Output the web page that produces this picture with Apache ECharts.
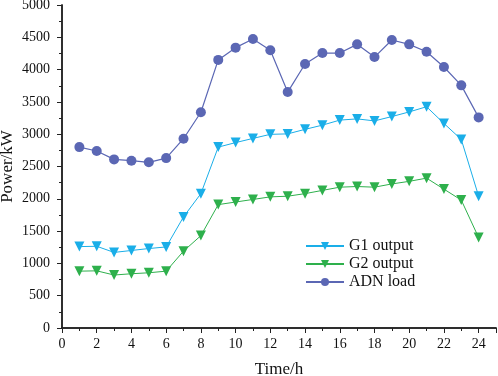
<!DOCTYPE html>
<html><head><meta charset="utf-8">
<script src="https://cdn.jsdelivr.net/npm/echarts@6/dist/echarts.min.js"></script>
<style>html,body{margin:0;padding:0;background:#fff}#c{width:498px;height:376px}</style>
</head><body><div id="c"></div>
<script>
const hours = [1,2,3,4,5,6,7,8,9,10,11,12,13,14,15,16,17,18,19,20,21,22,23,24];
const g1Output = [1260,1265,1170,1200,1230,1255,1720,2080,2800,2870,2935,2998,3005,3075,3140,3218,3237,3206,3273,3345,3425,3167,2919,2040];
const g2Output = [880,885,820,840,855,880,1190,1430,1910,1950,1990,2030,2040,2080,2130,2180,2190,2180,2230,2270,2320,2150,1980,1400];
const adnLoad = [2800,2740,2610,2590,2565,2630,2930,3340,4150,4340,4473,4300,3652,4086,4256,4256,4391,4194,4458,4391,4277,4040,3756,3260];
const seriesNames = ['G1 output','G2 output','ADN load'];

const font = 'Liberation Serif';
const axisCol = '#222';
const pair = (arr) => hours.map((h,i)=>[h,arr[i]]);

const chart = echarts.init(document.getElementById('c'));
const baseX = {
  type:'value', min:0, max:25, interval:2,
  axisLine:{show:true,lineStyle:{color:axisCol,width:1.5}},
  splitLine:{show:false},
  minorTick:{show:true,splitNumber:2,length:3,lineStyle:{color:axisCol}},
};
const baseY = {
  type:'value', min:0, max:5000, interval:500,
  axisLine:{show:true,lineStyle:{color:axisCol,width:1.5}},
  splitLine:{show:false},
  minorTick:{show:true,splitNumber:2,length:3,lineStyle:{color:axisCol}},
};
chart.setOption({
  animation:false,
  grid:{left:62,right:2,top:5,bottom:48,containLabel:false,outerBoundsMode:'none'},
  xAxis:[
    Object.assign({},baseX,{position:'bottom',
      name:'Time/h',nameLocation:'middle',nameGap:33,nameMoveOverlap:false,
      nameTextStyle:{fontFamily:font,fontSize:17,color:'#111'},
      axisTick:{show:true,length:5,lineStyle:{color:axisCol}},
      axisLabel:{fontFamily:font,fontSize:14,color:'#111',margin:9,
        formatter:v=> (v%2===0 && v<=24)? String(v):''}}),
    Object.assign({},baseX,{position:'top',
      axisTick:{show:true,inside:true,length:5,lineStyle:{color:axisCol}},
      axisLabel:{show:false}})
  ],
  yAxis:[
    Object.assign({},baseY,{position:'left',
      name:'Power/kW',nameLocation:'middle',nameGap:46,nameMoveOverlap:false,
      nameTextStyle:{fontFamily:font,fontSize:17,color:'#111'},
      axisTick:{show:true,length:5,lineStyle:{color:axisCol}},
      axisLabel:{fontFamily:font,fontSize:14,color:'#111',margin:12,formatter:v=>String(v)}}),
    Object.assign({},baseY,{position:'right',
      axisTick:{show:true,inside:true,length:5,lineStyle:{color:axisCol}},
      axisLabel:{show:false}})
  ],
  legend:{
    orient:'vertical', left:300, top:233, itemGap:2,
    itemWidth:38, itemHeight:10,
    textStyle:{fontFamily:font,fontSize:16,color:'#111'},
    data:seriesNames
  },
  series:[
    {name:seriesNames[0],type:'line',data:pair(g1Output),
      symbol:'triangle',symbolRotate:180,symbolSize:10,
      itemStyle:{color:'#1aaee8'},lineStyle:{color:'#1aaee8',width:1}},
    {name:seriesNames[1],type:'line',data:pair(g2Output),
      symbol:'triangle',symbolRotate:180,symbolSize:10,
      itemStyle:{color:'#2eb04c'},lineStyle:{color:'#2eb04c',width:1}},
    {name:seriesNames[2],type:'line',data:pair(adnLoad),
      symbol:'circle',symbolSize:10,
      itemStyle:{color:'#5b67b4'},lineStyle:{color:'#5b67b4',width:1.2}}
  ]
});
</script></body></html>
